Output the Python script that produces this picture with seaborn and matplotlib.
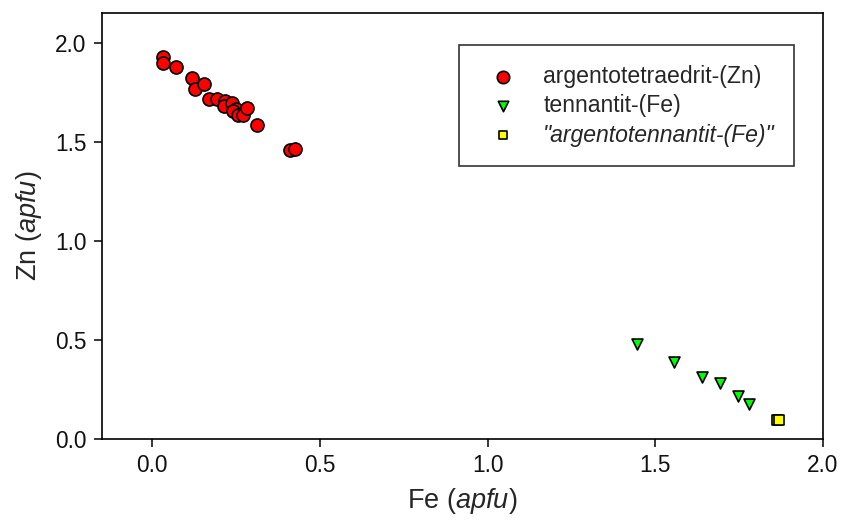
import matplotlib
matplotlib.use("Agg")
import matplotlib.pyplot as plt
import seaborn as sns
import pandas as pd

# Data
atz_fe = [0.033, 0.031, 0.071, 0.117, 0.127, 0.154, 0.169, 0.193, 0.217, 0.215,
          0.237, 0.249, 0.241, 0.256, 0.271, 0.281, 0.313, 0.410, 0.425]
atz_zn = [1.928, 1.900, 1.875, 1.820, 1.766, 1.790, 1.716, 1.716, 1.707, 1.682,
          1.695, 1.665, 1.653, 1.633, 1.633, 1.670, 1.586, 1.460, 1.463]
tfe_fe = [1.444, 1.555, 1.640, 1.694, 1.747, 1.779]
tfe_zn = [0.480, 0.387, 0.315, 0.284, 0.217, 0.175]
atf_fe = [1.862, 1.868]
atf_zn = [0.097, 0.097]

labels = ["argentotetraedrit-(Zn)", "tennantit-(Fe)", '"argentotennantit-(Fe)"']
x_ticks = [0.0, 0.5, 1.0, 1.5, 2.0]
y_ticks = [0.0, 0.5, 1.0, 1.5, 2.0]

sns.set_style("white")
plt.rcParams["font.family"] = ["Liberation Sans", "DejaVu Sans"]
plt.rcParams["mathtext.fontset"] = "custom"
plt.rcParams["mathtext.rm"] = "Liberation Sans"
plt.rcParams["mathtext.it"] = "Liberation Sans:italic"

fig = plt.figure(figsize=(8.42, 5.2), dpi=100)
ax = fig.add_axes([102 / 842, 81 / 520, (823 - 102) / 842, (439 - 13) / 520])

df1 = pd.DataFrame({"Fe": atz_fe, "Zn": atz_zn})
df2 = pd.DataFrame({"Fe": tfe_fe, "Zn": tfe_zn})
df3 = pd.DataFrame({"Fe": atf_fe, "Zn": atf_zn})

sns.scatterplot(data=df1, x="Fe", y="Zn", ax=ax, marker="o", s=88, color="#FF0000",
                edgecolor="black", linewidth=1.2, label=labels[0], zorder=3)
sns.scatterplot(data=df2, x="Fe", y="Zn", ax=ax, marker="v", s=62, color="#00FF00",
                edgecolor="black", linewidth=1.2, label=labels[1], zorder=3)
sns.scatterplot(data=df3, x="Fe", y="Zn", ax=ax, marker="s", s=44, color="#FFFF00",
                edgecolor="black", linewidth=1.2, label=labels[2], zorder=3)

ax.set_xlim(-0.15, 2.0)
ax.set_ylim(0.0, 2.15)
ax.set_xticks(x_ticks)
ax.set_yticks(y_ticks)
ax.set_xticklabels([f"{t:.1f}" for t in x_ticks])
ax.set_yticklabels([f"{t:.1f}" for t in y_ticks])
ax.tick_params(axis="both", which="major", direction="out", length=6, width=1.1,
               labelsize=16.3, color="black", labelcolor="#111111",
               bottom=True, left=True, top=False, right=False, pad=5)
for sp in ax.spines.values():
    sp.set_visible(True)
    sp.set_color("black")
    sp.set_linewidth(1.2)

ax.set_xlabel(r"Fe ($\mathit{apfu}$)", fontsize=19.5, labelpad=6)
ax.set_ylabel(r"Zn ($\mathit{apfu}$)", fontsize=19.5, labelpad=8)

leg = ax.legend(loc="upper left", bbox_to_anchor=(459 / 842, (520 - 45) / 520),
                bbox_transform=fig.transFigure, fontsize=16.6, frameon=True,
                fancybox=False, edgecolor="black", borderpad=0.85,
                handletextpad=0.65, labelspacing=0.28, borderaxespad=0,
                markerscale=0.95, handlelength=2.15)
leg.get_frame().set_linewidth(1.2)
leg.get_texts()[2].set_fontstyle("italic")

fig.savefig("out.png", dpi=100)
